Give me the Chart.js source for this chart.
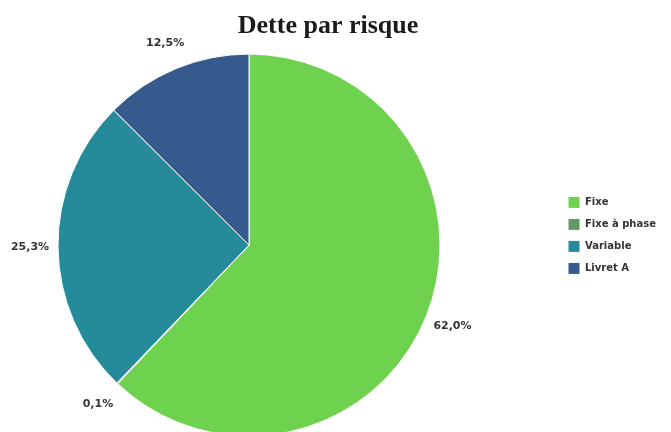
<!DOCTYPE html>
<html>
<head>
<meta charset="utf-8">
<script src="https://cdn.jsdelivr.net/npm/chart.js@4/dist/chart.umd.min.js"></script>
<style>
  html, body { margin: 0; padding: 0; background: #fff; overflow: hidden; width: 671px; height: 432px; }
  #wrap { position: absolute; left: -60px; top: 0; width: 800px; height: 442px; }
</style>
</head>
<body>
<div id="wrap"><canvas id="riskChart" width="800" height="442"></canvas></div>
<script>
var categories = ['Fixe', 'Fixe à phase', 'Variable', 'Livret A'];
var shares = [62.0, 0.1, 25.3, 12.5];

function pct(v) {
  return v.toFixed(1).replace('.', ',') + '%';
}

// percentages written just outside each slice
var outsideLabels = {
  id: 'outsideLabels',
  afterDatasetsDraw: function(chart) {
    var ctx = chart.ctx;
    var meta = chart.getDatasetMeta(0);
    ctx.save();
    ctx.font = 'bold 11px "DejaVu Sans"';
    ctx.fillStyle = '#333';
    ctx.textAlign = 'center';
    ctx.textBaseline = 'middle';
    meta.data.forEach(function(arc, i) {
      var mid = (arc.startAngle + arc.endAngle) / 2;
      var r = arc.outerRadius + 28;
      ctx.fillText(pct(shares[i]), arc.x + Math.cos(mid) * r, arc.y + Math.sin(mid) * r);
    });
    ctx.restore();
  }
};

// give the legend a fixed width so the pie sits left of centre
var legendWidth = {
  id: 'legendWidth',
  beforeInit: function(chart) {
    var fit = chart.legend.fit;
    chart.legend.fit = function() {
      fit.bind(chart.legend)();
      this.width = 158;
    };
  }
};

var ctx = document.getElementById('riskChart').getContext('2d');
var riskChart = new Chart(ctx, {
  type: 'pie',
  data: {
    labels: categories,
    datasets: [{
      data: shares,
      backgroundColor: ['#6fd24f', '#5f9a62', '#258a9a', '#355a8e'],
      borderColor: '#fff',
      borderWidth: 1
    }]
  },
  options: {
    responsive: false,
    animation: false,
    devicePixelRatio: 1,
    radius: 191,
    layout: { padding: { left: 0, right: 24, top: 0, bottom: 0 } },
    plugins: {
      title: {
        display: true,
        text: 'Dette par risque',
        color: '#1a1a1a',
        font: { family: '"Liberation Serif"', size: 26, weight: 'bold' },
        padding: { top: 11, bottom: 6 }
      },
      legend: {
        position: 'right',
        title: { display: true, text: '', padding: 0, font: { size: 24 } },
        labels: {
          boxWidth: 12,
          boxHeight: 12,
          padding: 10,
          color: '#333',
          font: { family: '"DejaVu Sans"', size: 10, weight: 'bold' }
        }
      },
      tooltip: { enabled: false }
    }
  },
  plugins: [outsideLabels, legendWidth]
});
</script>
</body>
</html>
